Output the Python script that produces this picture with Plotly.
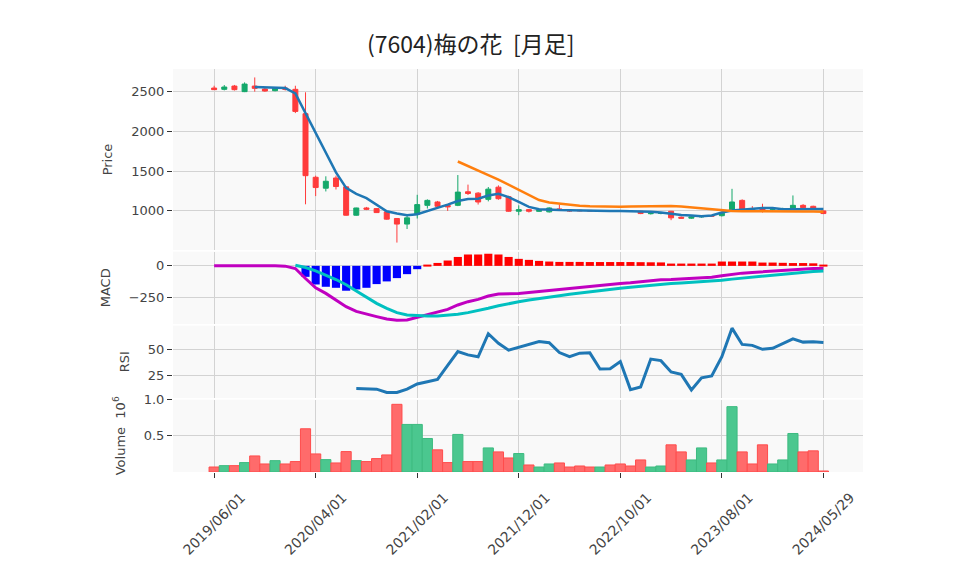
import plotly.graph_objects as go
from plotly.subplots import make_subplots

# 月足の日付 (最後は当月途中の日足)
dates = ["2019/06/01", "2019/07/01", "2019/08/01", "2019/09/01", "2019/10/01", "2019/11/01", "2019/12/01",
         "2020/01/01", "2020/02/01", "2020/03/01", "2020/04/01", "2020/05/01", "2020/06/01", "2020/07/01",
         "2020/08/01", "2020/09/01", "2020/10/01", "2020/11/01", "2020/12/01", "2021/01/01", "2021/02/01",
         "2021/03/01", "2021/04/01", "2021/05/01", "2021/06/01", "2021/07/01", "2021/08/01", "2021/09/01",
         "2021/10/01", "2021/11/01", "2021/12/01", "2022/01/01", "2022/02/01", "2022/03/01", "2022/04/01",
         "2022/05/01", "2022/06/01", "2022/07/01", "2022/08/01", "2022/09/01", "2022/10/01", "2022/11/01",
         "2022/12/01", "2023/01/01", "2023/02/01", "2023/03/01", "2023/04/01", "2023/05/01", "2023/06/01",
         "2023/07/01", "2023/08/01", "2023/09/01", "2023/10/01", "2023/11/01", "2023/12/01", "2024/01/01",
         "2024/02/01", "2024/03/01", "2024/04/01", "2024/05/01", "2024/05/29"]

open_ = [2541, 2525, 2566, 2496, 2566, 2529, 2508, 2541, 2525, 2219, 1422, 1285, 1413, 1302, 946,
         1037, 1029, 988, 905, 835, 959, 1070, 1112, 1070, 1070, 1240, 1223, 1145, 1298, 1178,
         996, 1016, 995, 988, 1025, 1012, 1008, 1006, 1000, 1004, 1002, 1000, 996, 965, 968,
         996, 921, 909, 925, 940, 940, 1008, 1132, 1030, 1040, 1020, 1025, 1029, 1070, 1058, 1000]
high_ = [2570, 2579, 2580, 2612, 2674, 2545, 2550, 2570, 2570, 2488, 1442, 1434, 1442, 1310, 1040,
         1050, 1035, 995, 910, 959, 1202, 1145, 1125, 1085, 1450, 1330, 1235, 1300, 1320, 1190,
         1070, 1025, 1012, 1045, 1080, 1020, 1015, 1010, 1008, 1010, 1008, 1004, 1000, 975, 980,
         1000, 930, 940, 945, 945, 975, 1277, 1145, 1060, 1090, 1035, 1040, 1194, 1085, 1065, 1005]
low_ = [2517, 2512, 2510, 2490, 2496, 2495, 2500, 2510, 2227, 1083, 1186, 1244, 1269, 940, 940,
        1010, 975, 890, 603, 773, 905, 1030, 1040, 1000, 1060, 1200, 1080, 1120, 1140, 990,
        946, 980, 988, 980, 1005, 990, 995, 996, 990, 994, 992, 990, 960, 955, 958,
        884, 905, 900, 915, 925, 930, 1005, 1015, 1010, 980, 1005, 1015, 1025, 1035, 1020, 960]
close_ = [2521, 2554, 2521, 2591, 2537, 2504, 2537, 2525, 2248, 1442, 1293, 1372, 1306, 946, 1037,
          1021, 979, 897, 835, 913, 1079, 1132, 1058, 1050, 1236, 1219, 1112, 1273, 1153, 996,
          1016, 996, 1005, 1037, 1012, 1000, 1002, 1000, 1002, 1000, 998, 996, 967, 968, 972,
          913, 909, 925, 940, 935, 972, 1112, 1021, 1020, 1010, 1025, 1029, 1070, 1041, 1029, 967]

# 移動平均 (5ヶ月, 25ヶ月)
ma_short = [None, None, None, None, 2554, 2550, 2546, 2541, 2475, 2227, 1980, 1723, 1484, 1289, 1215,
            1161, 1083, 996, 967, 946, 959, 996, 1037, 1079, 1124, 1149, 1153, 1194, 1215, 1174,
            1112, 1050, 1021, 1012, 1010, 1008, 1004, 1002, 1000, 1000, 1000, 998, 996, 988, 979,
            963, 950, 942, 934, 942, 979, 1004, 1016, 1029, 1037, 1037, 1021, 1021, 1025, 1029, 1025]
ma_long = [None] * 24 + [1620, 1566, 1508, 1450, 1393, 1327, 1265, 1194, 1136, 1107, 1091, 1079, 1066,
                         1058, 1054, 1052, 1052, 1054, 1058, 1062, 1064, 1062, 1056, 1045, 1029, 1021,
                         1008, 1000, 996, 994, 992, 992, 992, 992, 992, 992, 990]

# MACD
macd = [0, 0, 3, 5, 3, 2, 0, -2, -21, -99, -172, -216, -268, -320, -357, -380, -398, -417, -427, -424,
        -404, -383, -367, -341, -307, -281, -263, -237, -221, -219, -216, -208, -200, -190, -182, -174,
        -167, -159, -154, -146, -138, -133, -125, -117, -109, -107, -102, -99, -94, -89, -78, -65, -57,
        -52, -47, -42, -34, -29, -23, -21, -21]
signal = [None] * 8 + [5, -13, -39, -70, -107, -148, -195, -247, -294, -333, -367, -385, -390, -393,
                       -393, -388, -380, -367, -352, -333, -313, -294, -281, -268, -258, -245, -234,
                       -222, -212, -203, -194, -185, -176, -168, -160, -152, -145, -139, -134, -129,
                       -125, -120, -112, -104, -96, -88, -80, -72, -64, -57, -50, -44, -40]
hist = [None] * 9 + [-86, -146, -164, -172, -195, -185, -172, -143, -122, -96, -65, -26, 5, 23, 42,
                     70, 89, 89, 96, 89, 70, 55, 47, 39, 34, 31, 31, 31, 30, 30, 30, 30, 30, 29, 28,
                     27, 18, 18, 18, 18, 18, 34, 34, 34, 34, 26, 26, 24, 22, 22, 20, 8]

# RSI
rsi = [None] * 14 + [13.0, 12.4, 12.4, 9.3, 9.3, 12.4, 17.3, 19.4, 21.6, 34.9, 48.1, 45.0, 43.2, 65.1,
                     56.0, 49.4, 52.2, 54.9, 57.7, 56.5, 47.2, 43.2, 46.6, 46.9, 31.5, 31.8, 38.6, 12.0,
                     14.5, 41.0, 39.5, 28.7, 26.5, 11.7, 23.2, 25.0, 43.2, 70.4, 54.9, 54.0, 50.3, 51.2,
                     55.6, 60.2, 57.1, 57.4, 56.8]

# 出来高 (百万株)
volume = [0.069, 0.088, 0.088, 0.130, 0.222, 0.111, 0.157, 0.111, 0.144, 0.597, 0.250, 0.171, 0.125,
          0.282, 0.157, 0.144, 0.185, 0.236, 0.935, 0.657, 0.657, 0.463, 0.306, 0.130, 0.519, 0.144,
          0.144, 0.333, 0.278, 0.194, 0.255, 0.097, 0.069, 0.111, 0.125, 0.069, 0.083, 0.069, 0.069,
          0.097, 0.111, 0.083, 0.167, 0.069, 0.083, 0.375, 0.278, 0.167, 0.333, 0.125, 0.167, 0.903,
          0.278, 0.111, 0.375, 0.111, 0.167, 0.532, 0.278, 0.292, 0.014]

tick_labels = ["2019/06/01", "2020/04/01", "2021/02/01", "2021/12/01", "2022/10/01", "2023/08/01", "2024/05/29"]

UP = "#14a86b"
DOWN = "#ff3b3b"
vol_colors = ["#4bc78f" if c >= o else "#ff6b6b" for o, c in zip(open_, close_)]
vol_lines = ["#3dbb80" if c >= o else "#ff4d4d" for o, c in zip(open_, close_)]
hist_colors = ["#ff0000" if (h is not None and h >= 0) else "#0000ff" for h in hist]

fig = make_subplots(rows=4, cols=1, shared_xaxes=True, vertical_spacing=0.004,
                    row_heights=[5, 2, 2, 2])

fig.add_trace(go.Candlestick(x=dates, open=open_, high=high_, low=low_, close=close_,
                             increasing=dict(line=dict(color=UP, width=1), fillcolor=UP),
                             decreasing=dict(line=dict(color=DOWN, width=1), fillcolor=DOWN),
                             whiskerwidth=0, name="price"), row=1, col=1)
fig.add_trace(go.Scatter(x=dates, y=ma_short, mode="lines", line=dict(color="#1f77b4", width=2.5),
                         name="MA5"), row=1, col=1)
fig.add_trace(go.Scatter(x=dates, y=ma_long, mode="lines", line=dict(color="#ff7f0e", width=2.5),
                         name="MA25"), row=1, col=1)

fig.add_trace(go.Bar(x=dates, y=hist, width=0.8, marker=dict(color=hist_colors, line=dict(width=0)),
                     name="hist"), row=2, col=1)
fig.add_trace(go.Scatter(x=dates, y=macd, mode="lines", line=dict(color="#c000c0", width=3),
                         name="MACD"), row=2, col=1)
fig.add_trace(go.Scatter(x=dates, y=signal, mode="lines", line=dict(color="#00c0c0", width=3),
                         name="signal"), row=2, col=1)

fig.add_trace(go.Scatter(x=dates, y=rsi, mode="lines", line=dict(color="#1f77b4", width=3),
                         name="RSI"), row=3, col=1)

fig.add_trace(go.Bar(x=dates, y=volume, width=1.0,
                     marker=dict(color=vol_colors, line=dict(color=vol_lines, width=1)),
                     name="volume"), row=4, col=1)

FONT = "DejaVu Sans"
# ページ本体の余白 (8px) を差し引いたサイズ
fig.update_layout(
    width=942, height=559,
    margin=dict(l=165, r=87, t=61, b=95),
    paper_bgcolor="white", plot_bgcolor="#f9f9f9",
    font=dict(family=FONT, size=13, color="#444"),
    title=dict(text="(7604)梅の花  [月足]", x=359 / 942, xanchor="left", xref="container",
               y=1 - 37 / 559, yanchor="middle",
               font=dict(family="Noto Sans CJK JP", size=23, color="#222")),
    showlegend=False,
)

for r in range(1, 5):
    fig.update_xaxes(type="category", range=[-4.05, 63.9], tickvals=tick_labels, ticktext=tick_labels,
                     showgrid=True, gridcolor="#d3d3d3", gridwidth=1, zeroline=False,
                     rangeslider_visible=False, row=r, col=1, automargin=False,
                     ticks="outside" if r == 4 else "", ticklen=5, tickcolor="#333",
                     showticklabels=(r == 4), tickangle=-45, tickfont=dict(size=14),
                     ticklabelshift=27, ticklabelstandoff=6)
fig.update_yaxes(gridcolor="#d3d3d3", zeroline=False, ticks="outside", ticklen=5, tickcolor="#333",
                 title_font=dict(size=13))

fig.update_yaxes(title_text="Price", range=[510, 2780], dtick=500, row=1, col=1)
fig.update_yaxes(title_text="MACD", range=[-456, 112], dtick=250, row=2, col=1)
fig.update_yaxes(title_text="RSI", range=[4, 72.8], dtick=25, row=3, col=1)
fig.update_yaxes(title_text="Volume  10<sup>6</sup>", range=[0, 1.0], tickvals=[0.5, 1.0],
                 ticktext=["0.5", "1.0"], row=4, col=1)

fig.write_html("out.html")
